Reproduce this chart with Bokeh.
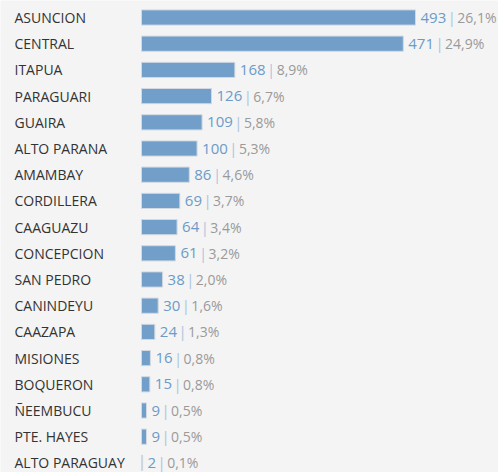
from bokeh.plotting import figure
from bokeh.models import ColumnDataSource, Range1d
from bokeh.core.properties import value
from bokeh.embed import file_html
from bokeh.resources import INLINE

departments = ["ASUNCION", "CENTRAL", "ITAPUA", "PARAGUARI", "GUAIRA", "ALTO PARANA",
               "AMAMBAY", "CORDILLERA", "CAAGUAZU", "CONCEPCION", "SAN PEDRO",
               "CANINDEYU", "CAAZAPA", "MISIONES", "BOQUERON", "ÑEEMBUCU",
               "PTE. HAYES", "ALTO PARAGUAY"]
counts = [493, 471, 168, 126, 109, 100, 86, 69, 64, 61, 38, 30, 24, 16, 15, 9, 9, 2]
percents = ["26,1%", "24,9%", "8,9%", "6,7%", "5,8%", "5,3%", "4,6%", "3,7%", "3,4%",
            "3,2%", "2,0%", "1,6%", "1,3%", "0,8%", "0,8%", "0,5%", "0,5%", "0,1%"]

W, H = 498, 472
bar_left_px = 141
px_per_unit = 274.0 / 493.0
row_px = 26.2
first_row_px = 17.0

digit_px = 8.6
val_gap = 5

n = len(departments)
src = ColumnDataSource(dict(
    y=list(range(n)),
    dept=departments,
    count=counts,
    count_txt=[str(c) for c in counts],
    pct=percents,
    sep=["|"] * n,
    zero=[0] * n,
    sep_off=[val_gap + len(str(c)) * digit_px + 5.5 for c in counts],
    pct_off=[val_gap + len(str(c)) * digit_px + 11 for c in counts],
))

x0 = -bar_left_px / px_per_unit
x1 = (W - bar_left_px) / px_per_unit
y_top = -first_row_px / row_px
y_bot = (H - first_row_px) / row_px

p = figure(width=W, height=H, output_backend="svg", toolbar_location=None,
           x_range=Range1d(x0, x1), y_range=Range1d(y_bot, y_top),
           min_border=0, min_border_left=0, min_border_right=0,
           min_border_top=0, min_border_bottom=0)
p.background_fill_color = "#f4f4f4"
p.border_fill_color = "#f4f4f4"
p.outline_line_color = None
p.xaxis.visible = False
p.yaxis.visible = False
p.xgrid.visible = False
p.ygrid.visible = False

p.hbar(y="y", left=0, right="count", height=0.58, source=src,
       fill_color="#729fca", line_color="#d2d9e0", line_width=1)

p.text(x="zero", y="y", text="dept", source=src, x_offset=-127,
       text_font=value("Open Sans"), text_font_size="14px", text_color="#333333",
       text_align="left", text_baseline="middle")

p.text(x="count", y="y", text="count_txt", source=src, x_offset=val_gap,
       text_font=value("Open Sans"), text_font_size="15px", text_color="#6b9bc9",
       text_font_style="normal", text_align="left", text_baseline="middle")

p.text(x="count", y="y", text="sep", source=src, x_offset="sep_off",
       text_font=value("Open Sans"), text_font_size="14px", text_color="#a8c3de",
       text_align="center", text_baseline="middle")

p.text(x="count", y="y", text="pct", source=src, x_offset="pct_off",
       text_font=value("Open Sans"), text_font_size="14px", text_color="#9a9a9a",
       text_align="left", text_baseline="middle")

open("out.html", "w").write(file_html(p, INLINE))
